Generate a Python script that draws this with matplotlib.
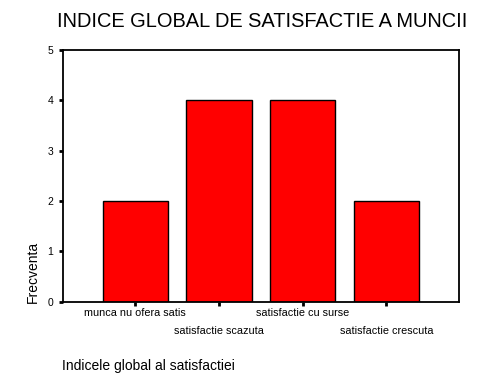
import matplotlib.pyplot as plt

# date
categorii = ["munca nu ofera satis", "satisfactie scazuta", "satisfactie cu surse", "satisfactie crescuta"]
frecvente = [2, 4, 4, 2]
y_ticks = [0, 1, 2, 3, 4, 5]

plt.rcParams['font.family'] = ['Liberation Sans', 'DejaVu Sans']

fig = plt.figure(figsize=(4.8, 3.84), dpi=100)
ax = fig.add_axes([0.131, 0.214, 0.825, 0.656])

x = range(len(categorii))
ax.bar(x, frecvente, width=0.78, color='#ff0000', edgecolor='black', linewidth=1)

ax.set_xlim(-0.866, 3.866)
ax.set_ylim(0, 5)
ax.set_yticks(y_ticks)
ax.set_yticklabels([str(v) for v in y_ticks], fontsize=7.5)
ax.set_xticks(list(x))
ax.set_xticklabels([])

for s in ax.spines.values():
    s.set_linewidth(1.3)
ax.tick_params(axis='y', direction='out', length=3, width=2, pad=4)
ax.tick_params(axis='x', direction='out', length=3, width=2)

# etichete in trepte
for i, lab in enumerate(categorii):
    off = -0.025 if i % 2 == 0 else -0.095
    ax.text(i, off, lab, transform=ax.get_xaxis_transform(), ha='center', va='top', fontsize=7.8)

fig.text(0.546, 0.945, "INDICE GLOBAL DE SATISFACTIE A MUNCII", ha='center', va='center', fontsize=14.4)
fig.text(0.068, 0.212, "Frecventa", rotation=90, ha='center', va='bottom', fontsize=10)
fig.text(0.129, 0.046, "Indicele global al satisfactiei", ha='left', va='center', fontsize=10)

fig.savefig("out.png", dpi=100)
